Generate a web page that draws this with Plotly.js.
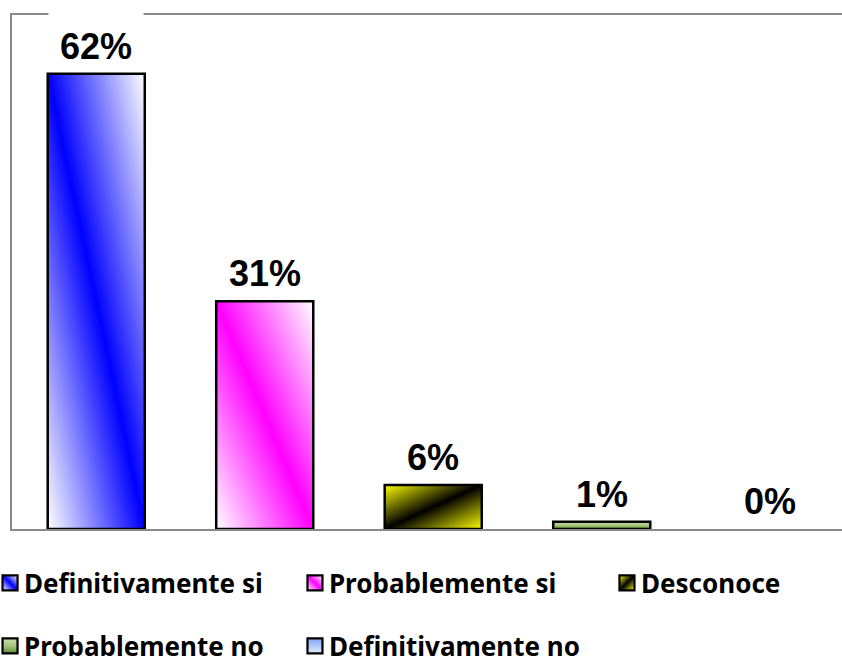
<!DOCTYPE html>
<html>
<head>
<meta charset="utf-8">
<script src="https://cdn.plot.ly/plotly-3.0.1.min.js"></script>
<style>html,body{margin:0;padding:0;background:#fff;}#chart{width:842px;height:659px;}</style>
</head>
<body>
<div id="chart"></div>
<script>
const categories = ["Definitivamente si", "Probablemente si", "Desconoce", "Probablemente no", "Definitivamente no"];
const values = [62, 31, 6, 1, 0];
const valueLabels = ["62%", "31%", "6%", "1%", "0%"];
const baseColors = ["#0000ff", "#ff00ff", "#ffff00", "#9bbb59", "#8db4f5"];

// gradient definitions (style only)
const gradients = [
  {id: "g0", x1: 1, y1: 0, x2: 0, y2: 1, stops: [[0, "#ffffff"], [0.5, "#0000ff"], [1, "#ffffff"]]},
  {id: "g1", x1: 1, y1: 0, x2: 0, y2: 1, stops: [[0, "#ffffff"], [0.5, "#ff00ff"], [1, "#ffffff"]]},
  {id: "g2", x1: 0, y1: 0, x2: 1, y2: 1, stops: [[0, "#ffff00"], [0.5, "#000000"], [1, "#ffff00"]]},
  {id: "g3", x1: 0, y1: 0, x2: 0, y2: 1, stops: [[0, "#c9dea8"], [0.5, "#a6c67f"], [1, "#5f8a32"]]},
  {id: "g4", x1: 0, y1: 0, x2: 0, y2: 1, stops: [[0, "#7ea8f4"], [1, "#e2ecfc"]]}
];

// legend anchor positions (paper fractions)
const legendPos = [
  {x: -0.0337, y: -0.1051},
  {x: 0.3337, y: -0.1051},
  {x: 0.7096, y: -0.1051},
  {x: -0.0337, y: -0.2276},
  {x: 0.3337, y: -0.2276}
];

const traces = categories.map((c, i) => ({
  type: "bar",
  x: [c],
  y: [values[i]],
  name: c,
  width: 0.576,
  marker: {color: baseColors[i], line: {color: "#000000", width: 2.5}},
  legend: i === 0 ? "legend" : "legend" + (i + 1),
  hoverinfo: "skip"
}));

const annotations = categories.map((c, i) => ({
  x: c, y: values[i], xref: "x", yref: "y",
  text: "<b>" + valueLabels[i] + "</b>",
  showarrow: false,
  yanchor: "bottom",
  yshift: 5,
  width: 92,
  height: 58,
  valign: "bottom",
  bgcolor: "#ffffff",
  font: {family: "Liberation Sans, Arial, sans-serif", size: 36, color: "#000000"}
}));

const layout = {
  width: 842, height: 659,
  margin: {l: 12, r: 0, t: 15, b: 130, autoexpand: false},
  paper_bgcolor: "#ffffff",
  plot_bgcolor: "#ffffff",
  barmode: "overlay",
  xaxis: {
    type: "category",
    categoryarray: categories,
    range: [-0.5, 4.426],
    showticklabels: false, ticks: "", showgrid: false, zeroline: false,
    showline: true, linecolor: "#898989", linewidth: 2, mirror: true
  },
  yaxis: {
    range: [0, 70],
    showticklabels: false, ticks: "", showgrid: false, zeroline: false,
    showline: true, linecolor: "#898989", linewidth: 2
  },
  annotations: annotations,
  showlegend: true
};
legendPos.forEach((p, i) => {
  const key = i === 0 ? "legend" : "legend" + (i + 1);
  layout[key] = {
    x: p.x, y: p.y, xref: "paper", yref: "paper",
    xanchor: "left", yanchor: "middle",
    orientation: "h", bgcolor: "rgba(0,0,0,0)", borderwidth: 0,
    font: {family: "Noto Sans, sans-serif", size: 26, color: "#000000", weight: "bold"}
  };
});

const gd = document.getElementById("chart");
const NS = "http://www.w3.org/2000/svg";

function ensureDefs() {
  if (document.getElementById("g0")) return;
  const defs = gd.querySelector("svg.main-svg defs");
  if (!defs) return;
  gradients.forEach(g => {
    const lg = document.createElementNS(NS, "linearGradient");
    lg.setAttribute("id", g.id);
    lg.setAttribute("x1", g.x1); lg.setAttribute("y1", g.y1);
    lg.setAttribute("x2", g.x2); lg.setAttribute("y2", g.y2);
    g.stops.forEach(s => {
      const st = document.createElementNS(NS, "stop");
      st.setAttribute("offset", s[0]);
      st.setAttribute("stop-color", s[1]);
      lg.appendChild(st);
    });
    defs.appendChild(lg);
  });
}

function traceIndexOf(el) {
  let node = el;
  while (node && node !== gd) {
    const d = node.__data__;
    if (Array.isArray(d) && d[0] && d[0].trace && typeof d[0].trace.index === "number") return d[0].trace.index;
    if (d && d.trace && typeof d.trace.index === "number") return d.trace.index;
    node = node.parentNode;
  }
  return -1;
}

function applyStyles() {
  ensureDefs();
  gd.querySelectorAll(".barlayer .trace.bars").forEach((t, i) => {
    t.querySelectorAll(".point path").forEach(p => {
      p.style.fill = "url(#g" + i + ")";
      if (values[i] === 0) p.style.strokeWidth = "0px";
    });
  });
  gd.querySelectorAll(".legendpoints").forEach(lp => {
    const idx = traceIndexOf(lp);
    if (idx < 0) return;
    lp.querySelectorAll("path").forEach(p => {
      p.style.fill = "url(#g" + idx + ")";
      p.style.stroke = "#000000";
      p.style.strokeWidth = "2.2px";
      p.setAttribute("d", "M13.5,7.5H-1.5V-7.5H13.5Z");
    });
  });
}

Plotly.newPlot(gd, traces, layout, {displayModeBar: false, staticPlot: true}).then(() => {
  applyStyles();
  gd.on("plotly_afterplot", applyStyles);
  setTimeout(applyStyles, 50);
  setTimeout(applyStyles, 300);
});
</script>
</body>
</html>
